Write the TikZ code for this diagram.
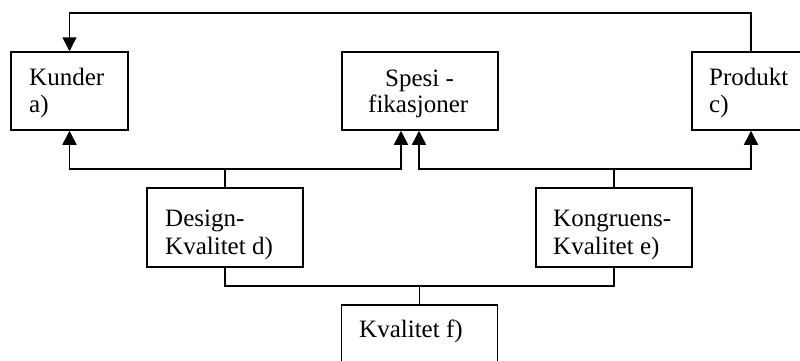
\documentclass[tikz,border=0pt]{standalone}
\usepackage{fontspec}
\setmainfont{Liberation Serif}
\usetikzlibrary{arrows.meta}
\begin{document}
\begin{tikzpicture}[x=1pt,y=-1pt,
  box/.style={draw, line width=1.5pt, inner sep=0pt},
  lbl/.style={font=\fontsize{25}{28}\selectfont, anchor=base west, inner sep=0pt},
  conn/.style={line width=1.5pt},
  arr/.style={conn, -{Triangle[width=14pt,length=14pt]}}]
\clip (0,0) rectangle (800,360);
\fill[white] (0,0) rectangle (800,360);
% boxes
\node[box, minimum width=117pt, minimum height=78pt] (kunder) at (69.5,91) {};
\node[box, minimum width=156pt, minimum height=78pt] (spesi) at (420,91) {};
\node[box, minimum width=118pt, minimum height=78pt] (produkt) at (751,91) {};
\node[box, minimum width=156pt, minimum height=79pt] (design) at (225,227.5) {};
\node[box, minimum width=156pt, minimum height=79pt] (kongr) at (614,227.5) {};
\node[box, minimum width=156pt, minimum height=79pt] (kval) at (419.5,344.5) {};
% texts
\node[lbl] (t1) at (29,85.7) {Kunder};
\node[lbl] (t2) at (29,112.5) {a)};
\node[lbl] (t3) at (385,86.7) {Spesi -};
\node[lbl] (t4) at (368,112.5) {fikasjoner};
\node[lbl] (t5) at (709,85.7) {Produkt};
\node[lbl] (t6) at (709,112.5) {c)};
\node[lbl] (t7) at (165,226) {Design-};
\node[lbl] (t8) at (165,254) {Kvalitet d)};
\node[lbl] (t9) at (553,226) {Kongruens-};
\node[lbl] (t10) at (553,254) {Kvalitet e)};
\node[lbl] (t11) at (359,337) {Kvalitet f)};
% connector points
\coordinate (tr) at (751,13);
\coordinate (tl) at (69.5,13);
\coordinate (dl) at (69.5,169);
\coordinate (dm) at (225,169);
\coordinate (sl) at (401,169);
\coordinate (sr) at (419,169);
\coordinate (km) at (614,169);
\coordinate (pr) at (751,169);
\coordinate (bl) at (225,286);
\coordinate (bm) at (419.5,286);
\coordinate (br) at (614,286);
% connectors
\draw[arr] (produkt.north) -- (tr) -- (tl) -- (kunder.north);
\draw[conn] (design.north) -- (dm);
\draw[arr] (dm) -- (dl) -- (kunder.south);
\draw[arr] (dm) -- (sl) -- ([xshift=-19pt]spesi.south);
\draw[conn] (kongr.north) -- (km);
\draw[arr] (km) -- (sr) -- ([xshift=-1pt]spesi.south);
\draw[arr] (km) -- (pr) -- (produkt.south);
\draw[conn] (design.south) -- (bl) -- (br) -- (kongr.south);
\draw[conn] (bm) -- (kval.north);
\end{tikzpicture}
\end{document}
